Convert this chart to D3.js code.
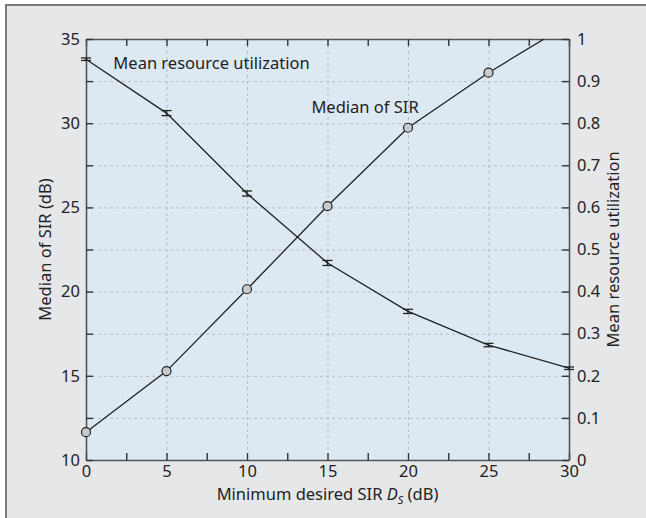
<!DOCTYPE html>
<html>
<head>
<meta charset="utf-8">
<script src="https://cdn.jsdelivr.net/npm/d3@7"></script>
<style>
body { margin: 0; background: #fff; }
text { font-family: "Noto Sans", "Open Sans", sans-serif; fill: #222; }
</style>
</head>
<body>
<div id="graph"></div>
<script>
// data
var minSIR = [0, 5, 10, 15, 20, 25, 30];
var medianSIR = [11.65, 15.28, 20.14, 25.08, 29.73, 33.0, 35.9];
var meanUtil = [0.952, 0.824, 0.633, 0.468, 0.353, 0.273, 0.218];
var utilErr = [0.003, 0.006, 0.006, 0.006, 0.005, 0.004, 0.003];
var xTicks = [0, 5, 10, 15, 20, 25, 30];
var leftTicks = [10, 15, 20, 25, 30, 35];
var rightTicks = [0, 0.1, 0.2, 0.3, 0.4, 0.5, 0.6, 0.7, 0.8, 0.9, 1];

var W = 646, H = 518;
var margin = {top: 39, right: 77, bottom: 58, left: 86},
width = W - margin.left - margin.right,
height = H - margin.top - margin.bottom;

var svg = d3.select("#graph").append("svg")
.attr("width", W)
.attr("height", H);

// grey figure panel with border on top/left
svg.append("rect")
    .attr("x", 6).attr("y", 5)
    .attr("width", W).attr("height", H)
    .attr("fill", "#e6e7e8")
    .attr("stroke", "#7a7a7a")
    .attr("stroke-width", 2);

var g = svg.append("g")
    .attr("transform", "translate(" + margin.left + "," + margin.top + ")");

var x = d3.scaleLinear().domain([0, 30]).range([0, width]);
var yL = d3.scaleLinear().domain([10, 35]).range([height, 0]);
var yR = d3.scaleLinear().domain([0, 1]).range([height, 0]);

g.append("rect")
    .attr("width", width).attr("height", height)
    .attr("fill", "#dce9f3");

// grid
var gridStyle = function(sel) {
    sel.select(".domain").remove();
    sel.selectAll(".tick line").attr("stroke", "#b9bcc0").attr("stroke-dasharray", "3,3");
    sel.selectAll(".tick text").remove();
};
g.append("g")
    .call(d3.axisBottom(x).tickValues(xTicks).tickSize(height))
    .call(gridStyle);
g.append("g")
    .call(d3.axisLeft(yL).tickValues(d3.range(10, 35.1, 2.5)).tickSize(-width))
    .call(gridStyle);

// axes with inward ticks
var axStyle = function(sel) {
    sel.select(".domain").attr("stroke", "#555").attr("stroke-width", 1.6);
    sel.selectAll(".tick line").attr("stroke", "#333").attr("stroke-width", 1.4);
    sel.selectAll(".tick text").attr("font-size", 16.5).attr("fill", "#222")
        .style("font-family", "'Noto Sans', sans-serif");
};
var minorX = d3.range(0, 30.1, 2.5);
g.append("g")
    .attr("transform", "translate(0," + height + ")")
    .call(d3.axisBottom(x).tickValues(minorX).tickSizeInner(-7).tickSizeOuter(0).tickPadding(5)
        .tickFormat(function(d) { return xTicks.indexOf(d) >= 0 ? d : ""; }))
    .call(axStyle);
g.append("g")
    .call(d3.axisTop(x).tickValues(minorX).tickSizeInner(-7).tickSizeOuter(0).tickFormat(""))
    .call(axStyle);
g.append("g")
    .call(d3.axisLeft(yL).tickValues(d3.range(10, 35.1, 2.5)).tickSizeInner(-7).tickSizeOuter(0).tickPadding(6)
        .tickFormat(function(d) { return leftTicks.indexOf(d) >= 0 ? d : ""; }))
    .call(axStyle);
g.append("g")
    .attr("transform", "translate(" + width + ",0)")
    .call(d3.axisRight(yR).tickValues(rightTicks).tickSizeInner(-7).tickSizeOuter(0).tickPadding(8)
        .tickFormat(d3.format("~g")))
    .call(axStyle);

// clip the curves to the plot area
g.append("clipPath").attr("id", "clip")
    .append("rect").attr("x", -6).attr("y", 0).attr("width", width + 12).attr("height", height + 6);
var plot = g.append("g").attr("clip-path", "url(#clip)");

var lineL = d3.line()
    .x(function(d, i) { return x(minSIR[i]); })
    .y(function(d) { return yL(d); });
var lineR = d3.line()
    .x(function(d, i) { return x(minSIR[i]); })
    .y(function(d) { return yR(d); });

plot.append("path").datum(meanUtil)
    .attr("d", lineR).attr("fill", "none").attr("stroke", "#222").attr("stroke-width", 1.3);
plot.append("path").datum(medianSIR)
    .attr("d", lineL).attr("fill", "none").attr("stroke", "#222").attr("stroke-width", 1.3);

// error bars
var eb = plot.selectAll(".eb").data(meanUtil).enter().append("g").attr("class", "eb");
eb.append("line")
    .attr("x1", function(d, i) { return x(minSIR[i]); })
    .attr("x2", function(d, i) { return x(minSIR[i]); })
    .attr("y1", function(d, i) { return yR(d - utilErr[i]); })
    .attr("y2", function(d, i) { return yR(d + utilErr[i]); })
    .attr("stroke", "#222").attr("stroke-width", 1.3);
[-1, 1].forEach(function(s) {
    eb.append("line")
        .attr("x1", function(d, i) { return x(minSIR[i]) - 5; })
        .attr("x2", function(d, i) { return x(minSIR[i]) + 5; })
        .attr("y1", function(d, i) { return yR(d + s * utilErr[i]); })
        .attr("y2", function(d, i) { return yR(d + s * utilErr[i]); })
        .attr("stroke", "#222").attr("stroke-width", 1.3);
});

// circle markers
plot.selectAll(".pt").data(medianSIR).enter().append("circle")
    .attr("class", "pt")
    .attr("cx", function(d, i) { return x(minSIR[i]); })
    .attr("cy", function(d) { return yL(d); })
    .attr("r", 4.5)
    .attr("fill", "#c9cacc").attr("stroke", "#222").attr("stroke-width", 1.2);

// labels
g.append("text").attr("x", x(1.7)).attr("y", yL(33.2)).attr("font-size", 16.5)
    .text("Mean resource utilization");
g.append("text").attr("x", x(14.0)).attr("y", yL(30.6)).attr("font-size", 16.5)
    .text("Median of SIR");

// axis titles
svg.append("text")
    .attr("transform", "translate(51," + (margin.top + height / 2) + ") rotate(-90)")
    .attr("text-anchor", "middle").attr("font-size", 16.5)
    .text("Median of SIR (dB)");
svg.append("text")
    .attr("transform", "translate(619," + (margin.top + height / 2) + ") rotate(-90)")
    .attr("text-anchor", "middle").attr("font-size", 16.5)
    .text("Mean resource utilization");
var xt = svg.append("text")
    .attr("x", margin.left + width / 2).attr("y", 500)
    .attr("text-anchor", "middle").attr("font-size", 16.5);
xt.append("tspan").text("Minimum desired SIR ");
xt.append("tspan").attr("font-style", "italic").text("D");
xt.append("tspan").attr("font-style", "italic").attr("font-size", 11).attr("dy", 4).text("S");
xt.append("tspan").attr("dy", -4).text(" (dB)");
</script>
</body>
</html>
